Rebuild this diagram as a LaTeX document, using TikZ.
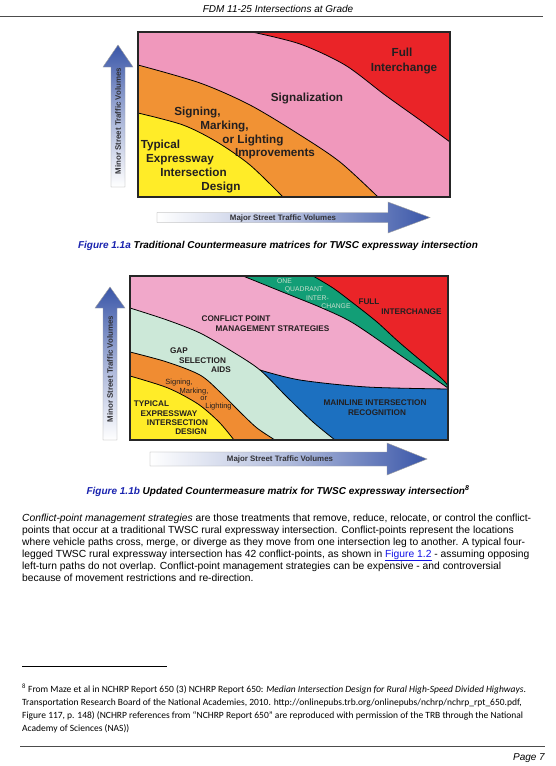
\documentclass[tikz,border=0pt]{standalone}
\usepackage{fontspec}
\setmainfont{Liberation Sans}
\newfontfamily\fnfont{Carlito}
\definecolor{redc}{RGB}{234,36,40}
\definecolor{pinkA}{RGB}{240,152,188}
\definecolor{orangeA}{RGB}{241,146,52}
\definecolor{yellowA}{RGB}{255,236,40}
\definecolor{pinkB}{RGB}{241,168,202}
\definecolor{greenB}{RGB}{18,158,118}
\definecolor{paleB}{RGB}{204,232,216}
\definecolor{blueB}{RGB}{28,112,192}
\definecolor{orangeB}{RGB}{240,140,50}
\definecolor{arrowblue}{RGB}{58,86,168}
\definecolor{labelc}{RGB}{35,31,32}
\definecolor{palec}{RGB}{200,222,205}
\definecolor{axisc}{RGB}{50,50,55}
\definecolor{capblue}{RGB}{25,35,175}
\definecolor{linkblue}{RGB}{20,20,230}
\tikzset{
  hdr/.style={font=\fontsize{10}{12}\selectfont\itshape, inner sep=0, anchor=base},
  bodyline/.style={font=\fontsize{10.3}{12}\selectfont, inner sep=0, anchor=base west},
  captext/.style={font=\fontsize{10}{12}\selectfont\bfseries\itshape, inner sep=0, anchor=base},
  fnline/.style={font=\fnfont\fontsize{9.5}{11}\selectfont, inner sep=0, anchor=base west},
  bigA/.style={font=\fontsize{11.7}{14}\selectfont\bfseries, text=labelc, inner sep=0, anchor=base, yshift=-4.2pt},
  capsB/.style={font=\fontsize{8.2}{10}\selectfont\bfseries, text=labelc, inner sep=0, anchor=base, yshift=-2.95pt},
  tinyB/.style={font=\fontsize{6.8}{8}\selectfont, text=palec, inner sep=0, anchor=base, yshift=-2.45pt},
  smallB/.style={font=\fontsize{7.5}{9}\selectfont, text=labelc, inner sep=0, anchor=base, yshift=-2.3pt},
  axislabel/.style={font=\fontsize{7.9}{9}\selectfont\bfseries, text=axisc, inner sep=0},
  arrowshape/.style={draw=gray!75, line width=0.4pt},
  bnd/.style={draw=black, line width=0.8pt},
  frame/.style={draw=black!85, line width=1.2pt},
  rulel/.style={draw=black!70, line width=0.6pt}
}
\begin{document}
\begin{tikzpicture}[x=1pt,y=-1pt]
\useasboundingbox[fill=white] (0,0) rectangle (556,766);

% ---------- header ----------
\node[hdr] (header) at (278,12.5) {FDM 11-25 Intersections at Grade};
\coordinate (hl) at (0,16);
\coordinate (hr) at (543,16);
\draw[rulel] (hl) -- (hr);

% ---------- figure 1.1a ----------
\fill[redc] (138,32) rectangle (450,197);
\fill[pinkA] (138,32) -- plot[smooth] coordinates {(252,32) (300,44) (345,65) (385,95) (420,120) (450,142)} -- (450,197) -- (138,197) -- cycle;
\fill[orangeA] plot[smooth] coordinates {(138,65) (200,83) (250,105) (300,135) (340,162) (378,197)} -- (138,197) -- cycle;
\fill[yellowA] plot[smooth] coordinates {(138,113) (183,125) (217,142) (250,165) (283,197)} -- (138,197) -- cycle;
\draw[bnd] plot[smooth] coordinates {(252,32) (300,44) (345,65) (385,95) (420,120) (450,142)};
\draw[bnd] plot[smooth] coordinates {(138,65) (200,83) (250,105) (300,135) (340,162) (378,197)};
\draw[bnd] plot[smooth] coordinates {(138,113) (183,125) (217,142) (250,165) (283,197)};
\draw[frame] (138,32) rectangle (450,197);

\node[bigA] (aFull) at (402,52) {Full};
\node[bigA] (aInt) at (404,67) {Interchange};
\node[bigA] (aSig) at (307,97) {Signalization};
\node[bigA] (aS1) at (197.5,111) {Signing,};
\node[bigA] (aS2) at (224.5,125) {Marking,};
\node[bigA] (aS3) at (253,139) {or Lighting};
\node[bigA] (aS4) at (275,152) {Improvements};
\node[bigA] (aT1) at (160.5,144) {Typical};
\node[bigA] (aT2) at (180,158) {Expressway};
\node[bigA] (aT3) at (193.5,172) {Intersection};
\node[bigA] (aT4) at (221,186) {Design};

% vertical arrow 1a
\shade[top color=arrowblue, bottom color=white, middle color=arrowblue!45] (111,187) -- (111,67) -- (103,67) -- (118,45) -- (133,67) -- (125,67) -- (125,187) -- cycle;
\draw[arrowshape] (111,187) -- (111,67) -- (103,67) -- (118,45) -- (133,67) -- (125,67) -- (125,187) -- cycle;
\node[axislabel, rotate=90] (aMinor) at (118,121) {Minor Street Traffic Volumes};
% horizontal arrow 1a
\shade[left color=white, right color=arrowblue, middle color=arrowblue!40] (157,212.5) -- (388,212.5) -- (388,202) -- (430,217.5) -- (388,233) -- (388,222.5) -- (157,222.5) -- cycle;
\draw[arrowshape] (157,212.5) -- (388,212.5) -- (388,202) -- (430,217.5) -- (388,233) -- (388,222.5) -- (157,222.5) -- cycle;
\node[axislabel] (aMajor) at (283,218) {Major Street Traffic Volumes};

\node[captext] (capA) at (278,248.6) {\textcolor{capblue}{Figure 1.1a} Traditional Countermeasure matrices for TWSC expressway intersection};

% ---------- figure 1.1b ----------
\fill[redc] (130,276) rectangle (448,440);
\fill[greenB] (130,276) -- plot[smooth] coordinates {(313,276) (333,288) (353,303) (377,322) (400,343) (440,377) (448,386)} -- (448,440) -- (130,440) -- cycle;
\fill[pinkB] (130,276) -- plot[smooth] coordinates {(243,276) (285,293) (322,308) (353,323) (400,355) (448,388)} -- (448,440) -- (130,440) -- cycle;
\fill[blueB] plot[smooth] coordinates {(260,370) (300,380) (367,387) (448,389)} -- (448,440) -- (260,440) -- cycle;
\fill[paleB] plot[smooth] coordinates {(130,308) (167,320) (200,333) (233,352) (260,370) (287,397) (313,422) (335,440)} -- (130,440) -- cycle;
\fill[orangeB] plot[smooth] coordinates {(130,352) (167,362) (200,375) (220,392) (240,412) (257,428) (275,440)} -- (130,440) -- cycle;
\fill[yellowA] plot[smooth] coordinates {(130,376) (168,388) (198,404) (219,422) (234,440)} -- (130,440) -- cycle;
\draw[bnd] plot[smooth] coordinates {(313,276) (333,288) (353,303) (377,322) (400,343) (440,377) (448,386)};
\draw[bnd] plot[smooth] coordinates {(243,276) (285,293) (322,308) (353,323) (400,355) (448,388)};
\draw[bnd] plot[smooth] coordinates {(260,370) (300,380) (367,387) (448,389)};
\draw[bnd] plot[smooth] coordinates {(130,308) (167,320) (200,333) (233,352) (260,370) (287,397) (313,422) (335,440)};
\draw[bnd] plot[smooth] coordinates {(130,352) (167,362) (200,375) (220,392) (240,412) (257,428) (275,440)};
\draw[bnd] plot[smooth] coordinates {(130,376) (168,388) (198,404) (219,422) (234,440)};
\draw[frame] (130,276) rectangle (448,440);

\node[tinyB] (bOne) at (284.5,281) {ONE};
\node[tinyB] (bQuad) at (304,289.5) {QUADRANT};
\node[tinyB] (bInter) at (317.5,298) {INTER-};
\node[tinyB] (bChange) at (336,306) {CHANGE};
\node[capsB] (bFull) at (369,302) {FULL};
\node[capsB] (bInt) at (411.5,312) {INTERCHANGE};
\node[capsB] (bC1) at (236,318.5) {CONFLICT POINT};
\node[capsB] (bC2) at (272.5,328.5) {MANAGEMENT STRATEGIES};
\node[capsB] (bG1) at (179,351) {GAP};
\node[capsB] (bG2) at (202.5,361) {SELECTION};
\node[capsB] (bG3) at (221,370) {AIDS};
\node[smallB] (bS1) at (179,382) {Signing,};
\node[smallB] (bS2) at (194,391.5) {Marking,};
\node[smallB] (bS3) at (203.7,398.5) {or};
\node[smallB] (bS4) at (218.5,406.5) {Lighting};
\node[capsB] (bT1) at (151.5,403.5) {TYPICAL};
\node[capsB] (bT2) at (169,413.5) {EXPRESSWAY};
\node[capsB] (bT3) at (177.5,422.5) {INTERSECTION};
\node[capsB] (bT4) at (191,431.5) {DESIGN};
\node[capsB] (bM1) at (375,402.5) {MAINLINE INTERSECTION};
\node[capsB] (bM2) at (377,412.5) {RECOGNITION};

% vertical arrow 1b
\shade[top color=arrowblue, bottom color=white, middle color=arrowblue!45] (103,440) -- (103,308) -- (95,308) -- (110,287) -- (125,308) -- (117,308) -- (117,440) -- cycle;
\draw[arrowshape] (103,440) -- (103,308) -- (95,308) -- (110,287) -- (125,308) -- (117,308) -- (117,440) -- cycle;
\node[axislabel, rotate=90] (bMinor) at (110,369) {Minor Street Traffic Volumes};
% horizontal arrow 1b
\shade[left color=white, right color=arrowblue, middle color=arrowblue!40] (150,452) -- (387,452) -- (387,443) -- (427,459) -- (387,475) -- (387,466) -- (150,466) -- cycle;
\draw[arrowshape] (150,452) -- (387,452) -- (387,443) -- (427,459) -- (387,475) -- (387,466) -- (150,466) -- cycle;
\node[axislabel] (bMajor) at (280,459.5) {Major Street Traffic Volumes};

\node[captext] (capB) at (278,494.6) {\textcolor{capblue}{Figure 1.1b} Updated Countermeasure matrix for TWSC expressway intersection\textsuperscript{8}};

% ---------- body text ----------
\node[bodyline] (l1) at (22,521) {\textit{Conflict-point management strategies} are those treatments that remove, reduce, relocate, or control the conflict-};
\node[bodyline] (l2) at (22,533) {points that occur at a traditional TWSC rural expressway intersection. Conflict-points represent the locations};
\node[bodyline] (l3) at (22,545) {where vehicle paths cross, merge, or diverge as they move from one intersection leg to another. A typical four-};
\node[bodyline] (l4) at (22,557) {legged TWSC rural expressway intersection has 42 conflict-points, as shown in \textcolor{linkblue}{\underline{Figure 1.2}} - assuming opposing};
\node[bodyline] (l5) at (22,569) {left-turn paths do not overlap. Conflict-point management strategies can be expensive - and controversial};
\node[bodyline] (l6) at (22,581) {because of movement restrictions and re-direction.};

% ---------- footnote ----------
\coordinate (fl) at (22,666);
\coordinate (fr) at (167,666);
\draw[draw=black, line width=0.6pt] (fl) -- (fr);
\node[fnline] (f1) at (22,692) {\textsuperscript{8} From Maze et al in NCHRP Report 650 (3) NCHRP Report 650: \textit{Median Intersection Design for Rural High-Speed Divided Highways}.};
\node[fnline] (f2) at (22,705) {Transportation Research Board of the National Academies, 2010. http://onlinepubs.trb.org/onlinepubs/nchrp/nchrp\_rpt\_650.pdf,};
\node[fnline] (f3) at (22,718) {Figure 117, p. 148) (NCHRP references from “NCHRP Report 650” are reproduced with permission of the TRB through the National};
\node[fnline] (f4) at (22,731) {Academy of Sciences (NAS))};

% ---------- footer ----------
\coordinate (bl) at (20,746);
\coordinate (br) at (545,746);
\draw[rulel] (bl) -- (br);
\node[hdr, anchor=base east] (page) at (545,760) {Page 7};
\end{tikzpicture}
\end{document}
